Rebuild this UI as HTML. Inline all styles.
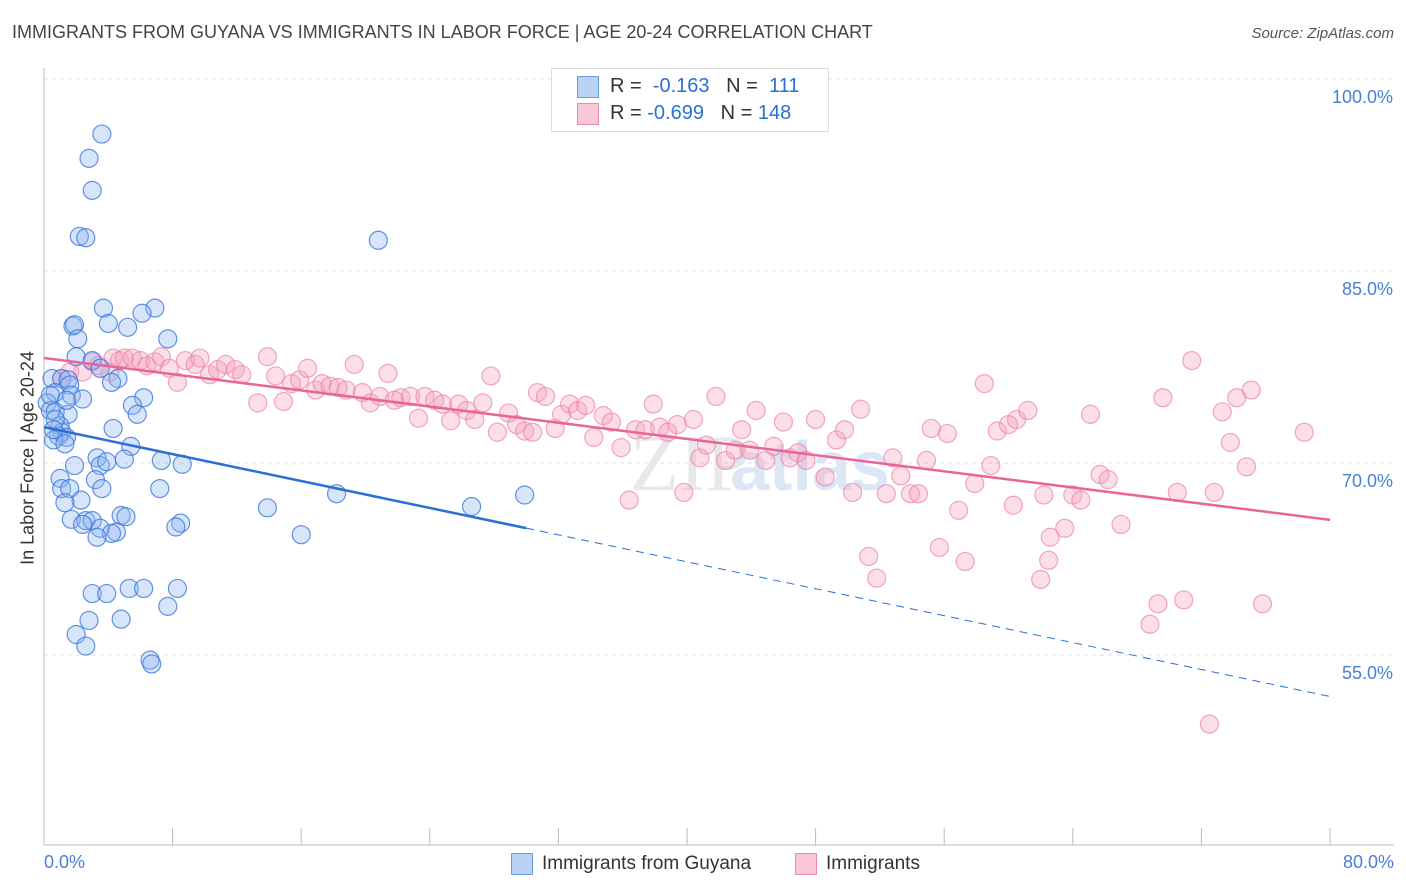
<!DOCTYPE html>
<html><head><meta charset="utf-8">
<style>
body{margin:0;background:#fff;font-family:"Liberation Sans",sans-serif;}
#wrap{position:relative;width:1406px;height:892px;overflow:hidden;}
.t{position:absolute;white-space:nowrap;}
</style></head>
<body>
<div id="wrap">
<div class="t" style="left:12px;top:22px;font-size:18px;color:#444;">IMMIGRANTS FROM GUYANA VS IMMIGRANTS IN LABOR FORCE | AGE 20-24 CORRELATION CHART</div>
<div class="t" style="right:12px;top:25px;font-size:15px;color:#555;font-style:italic;">Source: ZipAtlas.com</div>
<svg id="svg" width="1406" height="892" style="position:absolute;left:0;top:0"></svg>
</div>
<script>
const blueX=[3.6,2.8,3.0,2.2,2.6,20.8,3.7,6.9,6.1,1.8,1.9,4.0,5.2,7.7,2.1,2.0,3.0,3.5,4.6,4.2,0.5,1.1,1.5,1.6,0.7,1.7,2.4,6.2,5.5,5.8,0.2,0.4,0.7,1.5,1.0,1.1,0.9,1.4,0.6,4.3,5.4,1.3,3.3,3.5,3.9,7.3,8.6,1.9,5.0,1.0,3.2,3.6,1.1,1.6,7.2,18.2,29.9,2.3,1.3,13.9,26.6,4.8,5.1,1.7,2.6,3.0,2.4,3.5,4.5,4.2,3.3,8.5,8.2,16.0,3.0,3.9,5.3,6.2,8.3,7.7,2.8,4.8,2.0,2.6,6.6,6.7,0.4,0.7,0.6,1.4];
const blueY=[95.7,93.8,91.3,87.7,87.6,87.4,82.1,82.1,81.7,80.7,80.8,80.9,80.6,79.7,79.7,78.3,78.0,77.4,76.6,76.3,76.6,76.6,76.5,76.1,75.5,75.3,75.0,75.1,74.5,73.8,74.7,74.1,74.0,73.8,72.9,72.4,72.1,72.0,71.8,72.7,71.3,71.5,70.4,69.8,70.1,70.2,69.9,69.8,70.3,68.8,68.7,68.0,68.0,68.0,68.0,67.6,67.5,67.1,66.9,66.5,66.6,65.9,65.8,65.6,65.5,65.5,65.2,64.9,64.6,64.5,64.2,65.3,65.0,64.4,59.8,59.8,60.2,60.2,60.2,58.8,57.7,57.8,56.6,55.7,54.6,54.3,75.3,73.4,72.6,74.9];
const pinkX=[1.1,1.6,2.4,3.0,3.4,4.1,4.3,4.7,5.0,5.5,6.0,6.4,6.9,7.3,7.8,8.3,8.8,9.4,9.7,10.3,10.8,11.3,11.9,12.3,13.3,13.9,14.4,14.9,15.4,15.9,16.4,16.9,17.3,17.8,18.3,18.8,19.3,19.8,20.3,20.9,21.4,21.8,22.2,22.8,23.3,23.7,24.3,24.8,25.3,25.8,26.3,26.8,27.3,27.8,28.2,28.9,29.4,29.9,30.4,30.7,31.2,31.8,32.2,32.7,33.2,33.7,34.2,34.8,35.3,35.9,36.4,36.8,37.4,37.9,38.3,38.8,39.4,39.8,40.4,40.8,41.2,41.8,42.4,43.0,43.4,43.9,44.3,44.9,45.4,46.0,46.4,46.9,47.4,48.0,48.6,49.3,49.8,50.3,50.8,51.3,51.8,52.4,52.8,53.3,53.9,54.4,54.9,55.2,55.7,56.2,56.9,57.3,57.9,58.5,58.9,59.3,60.0,60.5,61.2,60.3,62.0,62.2,62.5,62.6,63.5,64.0,64.5,65.1,65.7,66.2,67.0,68.8,69.3,69.6,70.5,70.9,71.4,72.5,72.8,73.3,73.8,74.2,74.8,75.1,75.8,78.4];
const pinkY=[76.6,77.1,77.1,77.9,77.6,77.1,78.2,78.0,78.2,78.2,78.0,77.6,77.9,78.3,77.4,76.3,78.0,77.7,78.2,76.9,77.3,77.7,77.3,76.9,74.7,78.3,76.8,74.8,76.2,76.5,77.4,75.7,76.2,76.0,75.9,75.7,77.7,75.5,74.7,75.2,77.0,74.9,75.1,75.2,73.5,75.2,74.9,74.6,73.3,74.6,74.1,73.4,74.7,76.8,72.4,73.9,73.0,72.5,72.4,75.5,75.2,72.7,73.8,74.6,74.1,74.5,72.0,73.7,73.2,71.2,67.1,72.6,72.6,74.6,72.8,72.4,73.0,67.7,73.4,70.4,71.4,75.2,70.2,71.0,72.6,71.0,74.1,70.2,71.3,73.2,70.4,70.8,70.2,73.4,68.9,71.8,72.6,67.7,74.2,62.7,61.0,67.6,70.4,69.0,67.6,67.6,70.2,72.7,63.4,72.3,66.3,62.3,68.4,76.2,69.8,72.5,73.0,73.4,74.1,66.7,60.9,67.5,62.4,64.2,64.9,67.5,67.1,73.8,69.1,68.7,65.2,57.4,59.0,75.1,67.7,59.3,78.0,49.6,67.7,74.0,71.6,75.1,69.7,75.7,59.0,72.4];
const blueTrend=[72.8,-0.263]; // intercept, slope
const pinkTrend=[78.2,-0.158];
const yTicks=[100,85,70,55];
const yTickLabels=["100.0%","85.0%","70.0%","55.0%"];
const xTicks=[0,8,16,24,32,40,48,56,64,72,80];

const NS="http://www.w3.org/2000/svg";
const svg=document.getElementById('svg');
const X=v=>44+v*16.075;
const Y=v=>79+(100-v)*12.8;
function mk(tag,attrs,parent){const e=document.createElementNS(NS,tag);for(const k in attrs)e.setAttribute(k,attrs[k]);(parent||svg).appendChild(e);return e;}

yTicks.forEach((t,i)=>{
  const g=mk('line',{x1:44,x2:1394,y1:Y(t),y2:Y(t),stroke:'#dde','stroke-dasharray':'4,4','stroke-width':1});
  
  
  const tx=mk('text',{x:1393,y:Y(t)+24,'text-anchor':'end','font-size':18,fill:'#4a7fd6','font-family':'Liberation Sans, sans-serif'});
  tx.textContent=yTickLabels[i];
  
  
});
let ax=mk('line',{x1:44,x2:44,y1:68,y2:845,stroke:'#bbb'});


ax=mk('line',{x1:44,x2:1394,y1:845,y2:845,stroke:'#bbb'});


xTicks.forEach(t=>{
  const l=mk('line',{x1:X(t),x2:X(t),y1:828,y2:845,stroke:'#bbb'});
  
  
});
let wm=mk('text',{x:690,y:490,'text-anchor':'middle','font-size':80,fill:'#e8e8ec','font-family':'Liberation Serif, serif'});
wm.textContent='ZIP';


wm=mk('text',{x:810,y:490,'text-anchor':'middle','font-size':70,fill:'#dde6f4','font-family':'Liberation Sans, sans-serif','font-weight':'bold'});
wm.textContent='atlas';



pinkX.forEach((x,i)=>{
  const c=mk('circle',{cx:X(x),cy:Y(pinkY[i]),r:9,fill:'rgba(244,160,190,0.35)',stroke:'rgba(236,130,170,0.7)','stroke-width':1.2});
  
  
});
blueX.forEach((x,i)=>{
  const c=mk('circle',{cx:X(x),cy:Y(blueY[i]),r:9,fill:'rgba(140,180,240,0.35)',stroke:'rgba(60,120,220,0.8)','stroke-width':1.2});
  
  
});
const bAt=x=>blueTrend[0]+blueTrend[1]*x, pAt=x=>pinkTrend[0]+pinkTrend[1]*x;
let tl=mk('line',{x1:X(0),y1:Y(bAt(0)),x2:X(30),y2:Y(bAt(30)),stroke:'#2a6fd6','stroke-width':2.5});


tl=mk('line',{x1:X(30),y1:Y(bAt(30)),x2:X(80),y2:Y(bAt(80)),stroke:'#2a6fd6','stroke-width':1,'stroke-dasharray':'8,6'});


tl=mk('line',{x1:X(0),y1:Y(pAt(0)),x2:X(80),y2:Y(pAt(80)),stroke:'#e8649a','stroke-width':2.5});


</script>
<div class="t" style="left:44px;top:852px;font-size:18px;color:#4a7fd6;">0.0%</div>
<div class="t" style="right:12px;top:852px;font-size:18px;color:#4a7fd6;">80.0%</div>
<div class="t" style="top:458px;font-size:18px;color:#333;transform:translate(-50%,-50%) rotate(-90deg);left:28px;">In Labor Force | Age 20-24</div>
<div style="position:absolute;left:551px;top:68px;width:276px;height:62px;border:1px solid #ddd;background:#fff;font-size:20px;">
  <div style="position:absolute;left:25px;top:7px;width:20px;height:20px;background:#b9d2f5;border:1px solid #6d9be0;"></div>
  <div class="t" style="left:58px;top:6px;color:#333;">R = &nbsp;<span style="color:#2a6fd6">-0.163</span> &nbsp;&nbsp;N = &nbsp;<span style="color:#2a6fd6">111</span></div>
  <div style="position:absolute;left:25px;top:34px;width:20px;height:20px;background:#f9c6d7;border:1px solid #eb8cb0;"></div>
  <div class="t" style="left:58px;top:33px;color:#333;">R = <span style="color:#2a6fd6">-0.699</span> &nbsp;&nbsp;N = <span style="color:#2a6fd6">148</span></div>
</div>
<div style="position:absolute;left:511px;top:853px;width:20px;height:20px;background:#b9d2f5;border:1px solid #6d9be0;"></div>
<div class="t" style="left:542px;top:853px;font-size:19px;color:#333;">Immigrants from Guyana</div>
<div style="position:absolute;left:795px;top:853px;width:20px;height:20px;background:#f9c6d7;border:1px solid #eb8cb0;"></div>
<div class="t" style="left:826px;top:853px;font-size:19px;color:#333;">Immigrants</div>
</body></html>
